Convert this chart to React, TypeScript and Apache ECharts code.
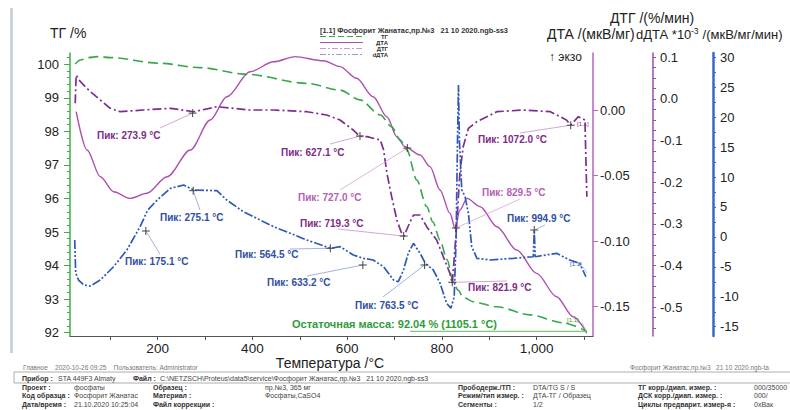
import React, { useEffect, useRef } from "react";
import * as echarts from "echarts";

const FONT = '"Liberation Sans", Arial, Helvetica, sans-serif';

// ---------- data: temperature (°C) and value ----------
const tgTemp = [26, 37, 54, 73, 100, 205, 290, 389, 515, 585, 627, 670, 694, 712, 726, 747, 768, 781, 796, 811, 824, 834, 845, 866, 916, 986, 1057, 1105];
const tgMass = [100.01, 100.13, 100.2, 100.23, 100.2, 100.03, 99.9, 99.7, 99.43, 99.23, 98.94, 98.49, 98.14, 97.74, 97.45, 96.55, 95.76, 95.3, 94.76, 94.17, 93.51, 93.27, 93.06, 92.92, 92.77, 92.53, 92.29, 92.04];

const dtaTemp = [28, 51, 79, 107, 142, 177, 220, 269, 311, 346, 395, 445, 490, 550, 585, 620, 655, 684, 705, 722, 754, 775, 796, 817, 828, 838, 853, 881, 916, 958, 1000, 1042, 1077, 1106];
const dtaVal = [-0.0013, -0.0305, -0.0509, -0.0623, -0.0674, -0.0635, -0.0509, -0.0305, -0.0076, 0.0101, 0.0292, 0.0368, 0.0407, 0.0376, 0.0331, 0.0242, 0.0101, -0.0051, -0.0204, -0.028, -0.0343, -0.0432, -0.061, -0.0788, -0.0902, -0.0763, -0.0674, -0.0738, -0.089, -0.1068, -0.1246, -0.1424, -0.1577, -0.1703];

const dtgTemp = [26, 28, 37, 58, 79, 100, 121, 170, 227, 276, 325, 395, 445, 515, 557, 585, 613, 627, 642, 670, 677, 684, 694, 705, 715, 720, 733, 740, 754, 768, 789, 803, 817, 822, 831, 838, 845, 856, 874, 916, 972, 1029, 1063, 1072, 1088, 1102, 1106];
const dtgVal = [-0.0102, 0.0575, 0.0414, 0.0174, -0.0025, -0.0224, -0.0306, -0.0265, -0.0224, -0.0306, -0.0186, -0.0265, -0.0265, -0.0306, -0.0385, -0.0505, -0.0745, -0.0894, -0.0905, -0.0985, -0.1225, -0.1784, -0.2345, -0.2905, -0.3224, -0.329, -0.2945, -0.2785, -0.2785, -0.3065, -0.3385, -0.3785, -0.4184, -0.4424, -0.3065, -0.1784, -0.1145, -0.0704, -0.0545, -0.0306, -0.0265, -0.0306, -0.0505, -0.0625, -0.0425, -0.0505, -0.2345];

const ddtaTemp = [25, 27, 33, 44, 58, 79, 107, 135, 163, 179, 199, 227, 255, 276, 325, 346, 381, 445, 515, 565, 585, 613, 634, 655, 677, 698, 708, 719, 729, 740, 754, 765, 782, 796, 810, 819, 826, 830, 833, 835, 837, 842, 849, 856, 863, 874, 902, 951, 993, 995, 997, 1042, 1070, 1091, 1104];
const ddtaVal = [-0.52, -6.03, -7.2, -8.03, -8.2, -7.2, -4.98, -2.19, 1.71, 4.49, 6.16, 8.12, 8.67, 7.84, 7.72, 6.16, 4.21, 1.71, -0.52, -1.9, -1.63, -3.02, -3.57, -3.86, -4.98, -7.2, -7.48, -5.53, -2.74, -1.07, -2.74, -4.41, -5.53, -7.7, -11.09, -11.92, -9.99, -0.52, 16.19, 25.37, 16.19, 7.84, 6.72, 3.94, -1.63, -3.57, -3.86, -3.57, -3.31, 1.15, -3.31, -2.74, -3.86, -4.41, -6.65];

// tick labels
const tempLabels = [200, 400, 600, 800, 1000];
const tempTicks = [100, 200, 300, 400, 500, 600, 700, 800, 900, 1000, 1100];
const tgLabels = [92, 93, 94, 95, 96, 97, 98, 99, 100];
const dtaLabels = [-0.15, -0.1, -0.05, 0];
const dtgLabels = [-0.5, -0.4, -0.3, -0.2, -0.1, 0, 0.1];
const ddtaLabels = [-15, -10, -5, 0, 5, 10, 15, 20, 25, 30];

// peaks: label, temperature, value on its curve, axis (0 TG,1 DTA,2 DTG,3 dDTA)
const peakNames = ["Пик: 273.9 °C", "Пик: 627.1 °C", "Пик: 719.3 °C", "Пик: 821.9 °C", "Пик: 1072.0 °C", "Пик: 727.0 °C", "Пик: 829.5 °C", "Пик: 175.1 °C", "Пик: 275.1 °C", "Пик: 564.5 °C", "Пик: 633.2 °C", "Пик: 763.5 °C", "Пик: 994.9 °C"];
const peakTemps = [273.9, 627.1, 719.3, 821.9, 1072.0, 727.0, 829.5, 175.1, 275.1, 564.5, 633.2, 763.5, 994.9];
const peakValues = [-0.034, -0.089, -0.329, -0.44, -0.063, -0.029, -0.09, 0.99, 7.72, -1.9, -4.69, -4.69, 1.15];
const peakAxis = [2, 2, 2, 2, 2, 1, 1, 3, 3, 3, 3, 3, 3];

const residualTemp = 1105.1;
const residualMass = 92.04;

// ---------- layout (pixels) ----------
const peakLabelPos = [
  [97, 135], [281, 152], [300, 223], [468, 287], [478, 139],
  [298, 197], [482, 192],
  [125, 261], [160, 217], [235, 254], [267, 282], [355, 305], [507, 218],
];
const peakLeaderFrom = [
  [160, 128], [330, 144], [338, 229], [507, 281], [520, 133],
  [340, 190], [520, 199],
  [160, 254], [200, 210], [290, 249], [307, 276], [383, 297], [545, 225],
];

const C_TG = "#36A84A";
const C_DTA = "#AD4FB0";
const C_DTG = "#7B2E8E";
const C_DDTA = "#2F58B8";
const L_DTG = "#7E2C87";
const L_DTA = "#B55FB5";
const L_BLUE = "#2F4FA3";

function range(a: number, b: number, s: number) {
  const r: number[] = [];
  for (let v = a; v <= b + 1e-9; v += s) r.push(Math.round(v * 1000) / 1000);
  return r;
}

function txt(x: number, y: number, text: string, size: number, color: string, weight = "normal", align = "left") {
  return {
    type: "text", x, y, silent: true, z: 100,
    style: {
      text, fill: color, fontSize: size, fontWeight: weight, fontFamily: FONT,
      textAlign: align, textVerticalAlign: "middle", align, verticalAlign: "middle",
    },
  };
}
function ln(x1: number, y1: number, x2: number, y2: number, color: string, w = 1, dash?: number[]) {
  return {
    type: "line", silent: true, z: 100,
    shape: { x1, y1, x2, y2 },
    style: { stroke: color, lineWidth: w, lineDash: dash },
  };
}

export default function App() {
  const ref = useRef<HTMLDivElement>(null);
  useEffect(() => {
    document.body.style.margin = "0";
    const chart = echarts.init(ref.current!, undefined, { renderer: "svg" });
    const zip = (a: number[], b: number[]) => a.map((t, i) => [t, b[i]]);
    const baseAxis = (color: string, w: number) => ({
      type: "value",
      axisLine: { show: true, onZero: false, lineStyle: { color, width: w } },
      splitLine: { show: false },
    });
    const labelStyle = { color: "#222", fontSize: 13, fontFamily: FONT };
    const option: any = {
      animation: false,
      backgroundColor: "#fff",
      grid: { left: 70, right: 197, top: 53, bottom: 74, containLabel: false },
      xAxis: {
        type: "value", min: 15, max: 1119,
        axisLine: { show: true, onZero: false, lineStyle: { color: "#555", width: 1 } },
        axisTick: { show: true, customValues: tempTicks, length: 4, lineStyle: { color: "#555" } },
        axisLabel: { customValues: tempLabels, color: "#222", fontSize: 13.5, fontFamily: FONT, margin: 5 },
        splitLine: { show: false },
      },
      yAxis: [
        {
          ...baseAxis("#3DAE48", 1.5), position: "left", min: 91.9, max: 100.337,
          axisTick: { show: true, customValues: range(92, 100.2, 0.2), length: 3, lineStyle: { color: "#3DAE48" } },
          axisLabel: { ...labelStyle, customValues: tgLabels, margin: 11 },
        },
        {
          ...baseAxis("#B566C0", 1.5), position: "right", offset: 0, min: -0.1724, max: 0.0435,
          axisTick: { show: true, customValues: dtaLabels, length: 5, lineStyle: { color: "#B566C0" } },
          axisLabel: { ...labelStyle, customValues: dtaLabels, margin: 7, formatter: (v: number) => v.toFixed(2) },
        },
        {
          ...baseAxis("#9A4FA8", 1.5), position: "right", offset: 60, min: -0.5688, max: 0.1103,
          axisTick: { show: true, customValues: range(-0.55, 0.1, 0.025), length: 3, lineStyle: { color: "#9A4FA8" } },
          axisLabel: { ...labelStyle, customValues: dtgLabels, margin: 7, formatter: (v: number) => v.toFixed(1) },
        },
        {
          ...baseAxis("#3868C8", 2.5), position: "right", offset: 120, min: -16.55, max: 30.72,
          axisTick: { show: true, customValues: range(-15, 30, 2.5), length: 3, lineStyle: { color: "#3868C8" } },
          axisLabel: { ...labelStyle, customValues: ddtaLabels, margin: 7 },
        },
        {
          type: "value", position: "left", min: 91.9, max: 100.337,
          axisLine: { show: false }, splitLine: { show: false },
          axisTick: { show: true, customValues: tgLabels, length: 6, lineStyle: { color: "#3DAE48" } },
          axisLabel: { show: false },
        },
      ],
      series: [
        {
          name: "ДТА", type: "line", yAxisIndex: 1, data: zip(dtaTemp, dtaVal),
          symbol: "none", smooth: 0.3, smoothMonotone: "x",
          lineStyle: { color: C_DTA, width: 1.4 },
        },
        {
          name: "ТГ", type: "line", yAxisIndex: 0, data: zip(tgTemp, tgMass),
          symbol: "none", smooth: 0.3, smoothMonotone: "x",
          lineStyle: { color: C_TG, width: 1.6, type: [10, 5] },
        },
        {
          name: "ДТГ", type: "line", yAxisIndex: 2, data: zip(dtgTemp, dtgVal),
          symbol: "none", lineStyle: { color: C_DTG, width: 1.7, type: [9, 3, 2, 3] },
        },
        {
          name: "dДТА", type: "line", yAxisIndex: 3, data: zip(ddtaTemp, ddtaVal),
          symbol: "none", lineStyle: { color: C_DDTA, width: 1.7, type: [9, 2, 2, 2, 2, 2] },
        },
      ],
    };
    chart.setOption(option);

    const px = (axis: number, t: number, v: number) =>
      chart.convertToPixel({ xAxisIndex: 0, yAxisIndex: axis } as any, [t, v]) as number[];

    const g: any[] = [];
    g.push({ type: "rect", silent: true, shape: { x: 10, y: 8, width: 3, height: 345 }, style: { fill: "#C9D3DD" } });

    // axis titles
    g.push(txt(50, 33, "ТГ /%", 14, "#222"));
    g.push(txt(652, 17.5, "ДТГ /(%/мин)", 14, "#222", "normal", "center"));
    g.push(txt(547, 34, "ДТА /(мкВ/мг)", 14, "#222"));
    g.push(txt(636, 34, "dДТА *10", 13, "#222"));
    g.push(txt(691, 31, "-3", 8.5, "#222"));
    g.push(txt(699, 34, " /(мкВ/мг/мин)", 13, "#222"));
    g.push(txt(549, 57, "↑ экзо", 12, "#222"));

    // legend
    g.push(txt(320, 30, "[1.1] Фосфорит Жанатас,пр.№3   21 10 2020.ngb-ss3", 7.4, "#333", "bold"));
    const legRows: [string, string, number[] | undefined][] = [
      ["ТГ", C_TG, [6, 3]],
      ["ДТА", C_DTA, undefined],
      ["ДТГ", "#C89BD0", [6, 2, 2, 2]],
      ["dДТА", "#8FA3D8", [6, 2, 2, 2, 2, 2]],
    ];
    legRows.forEach((r, i) => {
      const y = 36.5 + i * 6;
      g.push(ln(320, y, 363, y, r[1], 1.2, r[2]));
      g.push(txt(388, y, r[0], 6, "#333", "bold", "right"));
    });

    // peak annotations
    peakNames.forEach((name, i) => {
      const ax = peakAxis[i];
      const [x, y] = px(ax, peakTemps[i], peakValues[i]);
      const col = ax === 2 ? L_DTG : ax === 1 ? L_DTA : L_BLUE;
      const lead = ax === 2 ? "#C88FCB" : ax === 1 ? "#D9A0D8" : "#8A9FD4";
      const [lx, ly] = peakLeaderFrom[i];
      g.push(ln(lx, ly, x, y, lead, 0.8));
      g.push(ln(x - 4, y, x + 4, y, "#444", 1));
      g.push(ln(x, y - 4, x, y + 4, "#444", 1));
      const [tx, ty] = peakLabelPos[i];
      g.push(txt(tx, ty, name, 10, col, "bold"));
    });

    // residual mass
    const [rx, ry] = px(0, residualTemp, residualMass);
    g.push(ln(410, ry, rx, ry, "#5CBF5C", 1));
    g.push(txt(292, 324, "Остаточная масса: 92.04 % (1105.1 °C)", 11, "#2E9B3A", "bold"));
    g.push(txt(567, 320, "[1.1]", 6, "#2E9B3A"));
    g.push(ln(582, 323, rx, ry, "#5CBF5C", 0.6));
    g.push(txt(570, 264, "[1.1]", 6, L_BLUE));
    g.push(ln(583, 267, 587, 273, "#8A9FD4", 0.6));
    g.push(txt(577, 124, "[1.1]", 6, L_DTG));

    // x title and footer
    g.push(txt(330, 363, "Температура /°C", 14, "#222", "normal", "center"));
    g.push(txt(23, 367, "Главное    2020-10-26 09:25    Пользователь: Administrator", 6.5, "#777"));
    g.push(txt(630, 367, "Фосфорит Жанатас,пр.№3   21 10 2020.ngb-ta", 6.5, "#777"));

    g.push({ type: "rect", silent: true, shape: { x: 14, y: 372, width: 790, height: 11 }, style: { fill: "none", stroke: "#999", lineWidth: 0.8 } });
    g.push(txt(22, 378, "Прибор :", 7, "#333", "bold"));
    g.push(txt(58, 378, "STA 449F3 Almaty", 7, "#444"));
    g.push(txt(133, 378, "Файл :", 7, "#333", "bold"));
    g.push(txt(160, 378, "C:\\NETZSCH\\Proteus\\data5\\service\\Фосфорит Жанатас,пр.№3   21 10 2020.ngb-ss3", 7, "#444"));

    const rowsY = [387, 395.5, 404];
    const cols = [
      { x: 22, b: true, v: ["Проект :", "Код образца :", "Дата/время :"] },
      { x: 74, b: false, v: ["фосфаты", "Фосфорит Жанатас", "21.10.2020 10:25:04"] },
      { x: 153, b: true, v: ["Образец :", "Материал :", "Файл коррекции :"] },
      { x: 265, b: false, v: ["пр.№3, 365 мг", "Фосфаты,CaSO4", ""] },
      { x: 458, b: true, v: ["Прободерж./ТП :", "Режим/тип измер. :", "Сегменты :"] },
      { x: 533, b: false, v: ["DTA/TG S / S", "ДТА-ТГ / Образец", "1/2"] },
      { x: 638, b: true, v: ["ТГ корр./диап. измер. :", "ДСК корр./диап. измер. :", "Циклы предварит. измер-я :"] },
      { x: 754, b: false, v: ["000/35000", "000/", "0xВак"] },
    ];
    cols.forEach((c) => c.v.forEach((s, i) => {
      if (s) g.push(txt(c.x, rowsY[i], s, 7, c.b ? "#333" : "#444", c.b ? "bold" : "normal"));
    }));

    chart.setOption({ graphic: g });
    return () => chart.dispose();
  }, []);
  return <div ref={ref} style={{ position: "fixed", left: 0, top: 0, width: 790, height: 410 }} />;
}
